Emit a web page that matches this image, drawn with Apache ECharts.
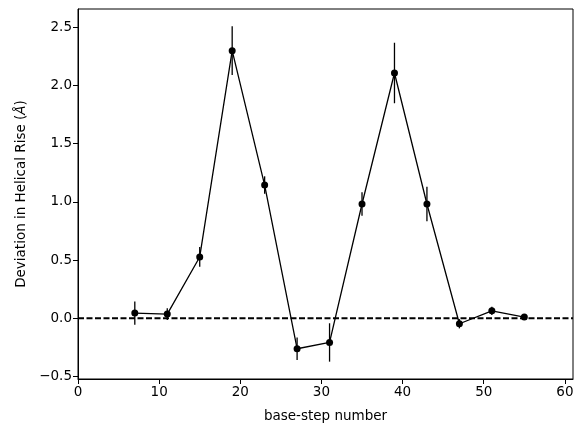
<!DOCTYPE html>
<html>
<head>
<meta charset="utf-8">
<script src="https://cdn.jsdelivr.net/npm/echarts@6/dist/echarts.min.js"></script>
<style>
html, body { margin: 0; padding: 0; background: #fff; }
#chart { width: 583px; height: 432px; }
</style>
</head>
<body>
<div id="chart"></div>
<script>
// base-step positions and deviation in helical rise
var steps = [7, 11, 15, 19, 23, 27, 31, 35, 39, 43, 47, 51, 55];
var rise = [0.045, 0.036, 0.527, 2.30, 1.145, -0.262, -0.208, 0.982, 2.108, 0.982, -0.047, 0.064, 0.010];
var riseErr = [0.10, 0.05, 0.085, 0.21, 0.075, 0.097, 0.165, 0.10, 0.26, 0.148, 0.04, 0.035, 0.02];
var yTicks = [-0.5, 0, 0.5, 1, 1.5, 2, 2.5];

var font = 'DejaVu Sans';
var pts = steps.map(function (s, i) { return [s, rise[i]]; });
var errData = steps.map(function (s, i) { return [s, rise[i] - riseErr[i], rise[i] + riseErr[i]]; });

var myChart = echarts.init(document.getElementById('chart'));
var option = {
	animation: false,
	grid: { left: 78, right: 10, top: 9, bottom: 53 },
	xAxis: {
		type: 'value',
		min: 0, max: 61, interval: 10,
		name: 'base-step number',
		nameLocation: 'middle',
		nameGap: 30,
		nameTextStyle: { fontFamily: font, fontSize: 13.5, color: '#000' },
		axisLine: { onZero: false, lineStyle: { color: '#000', width: 1 } },
		axisTick: { show: true, length: 5, lineStyle: { color: '#000' } },
		axisLabel: { fontFamily: font, fontSize: 13.5, color: '#000', margin: 6 },
		splitLine: { show: false }
	},
	yAxis: {
		type: 'value',
		min: -0.522, max: 2.658,
		name: '{a|Deviation in Helical Rise (}{b|Å}{a|)}',
		nameLocation: 'middle',
		nameGap: 50,
		nameTextStyle: {
			rich: {
				a: { fontFamily: font, fontSize: 13.5, color: '#000' },
				b: { fontFamily: font, fontSize: 13.5, color: '#000', fontStyle: 'italic' }
			}
		},
		axisLine: { show: true, onZero: false, lineStyle: { color: '#000', width: 1 } },
		axisTick: { show: true, length: 5, lineStyle: { color: '#000' }, customValues: yTicks },
		axisLabel: {
			fontFamily: font, fontSize: 13.5, color: '#000', margin: 6,
			customValues: yTicks,
			formatter: function (v) { return (v < 0 ? '\u2212' : '') + Math.abs(v).toFixed(1); }
		},
		splitLine: { show: false }
	},
	series: [
		{
			// 虚线 y=0
			type: 'line',
			data: [[0, 0], [61, 0]],
			symbol: 'none',
			silent: true,
			lineStyle: { color: '#000', width: 2, type: [6, 2.5] },
			z: 1
		},
		{
			type: 'custom',
			renderItem: function (params, api) {
				var top = api.coord([api.value(0), api.value(2)]);
				var bot = api.coord([api.value(0), api.value(1)]);
				return {
					type: 'line',
					shape: { x1: top[0], y1: top[1], x2: bot[0], y2: bot[1] },
					style: { stroke: '#000', lineWidth: 1.3 }
				};
			},
			encode: { x: 0, y: [1, 2] },
			data: errData,
			z: 2
		},
		{
			type: 'line',
			data: pts,
			symbol: 'circle',
			symbolSize: 7,
			itemStyle: { color: '#000' },
			lineStyle: { color: '#000', width: 1.3 },
			z: 3
		}
	]
};
myChart.setOption(option);

// frame on top and right like the reference
var g = myChart.getModel().getComponent('grid').coordinateSystem.getRect();
myChart.setOption({
	graphic: [{
		type: 'rect',
		shape: { x: g.x, y: g.y, width: g.width, height: g.height },
		style: { fill: 'none', stroke: '#000', lineWidth: 1 },
		silent: true,
		z: 10
	}]
});
</script>
</body>
</html>
